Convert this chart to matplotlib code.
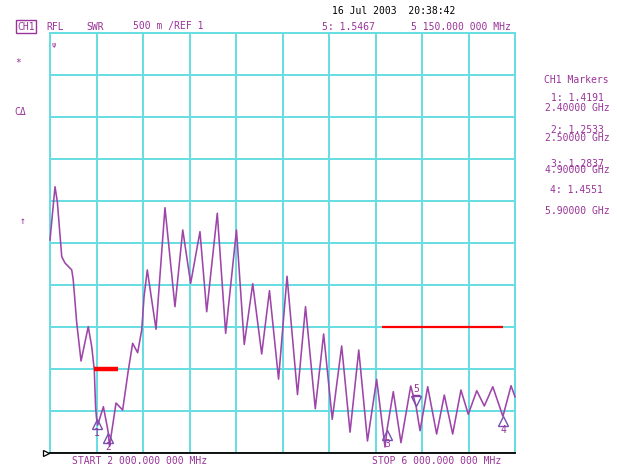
import matplotlib
matplotlib.use('Agg')
import matplotlib.pyplot as plt
from matplotlib.transforms import offset_copy

# ---- data ----
freq_ghz = [2.000, 2.043, 2.063, 2.101, 2.129, 2.187, 2.200, 2.230, 2.267, 2.329,
            2.359, 2.381, 2.392, 2.400, 2.410, 2.459, 2.490, 2.500, 2.512, 2.568,
            2.625, 2.674, 2.711, 2.754, 2.789, 2.809, 2.837, 2.912, 2.989, 3.075,
            3.142, 3.210, 3.290, 3.348, 3.439, 3.511, 3.604, 3.671, 3.744, 3.821,
            3.888, 3.966, 4.039, 4.129, 4.198, 4.282, 4.354, 4.428, 4.509, 4.581,
            4.656, 4.731, 4.810, 4.882, 4.900, 4.953, 5.019, 5.103, 5.150, 5.183,
            5.249, 5.326, 5.392, 5.464, 5.535, 5.598, 5.671, 5.736, 5.809, 5.895,
            5.900, 5.966, 6.000]
swr = [3.536, 4.170, 3.992, 3.337, 3.262, 3.179, 3.060, 2.548, 2.095, 2.504,
       2.265, 1.988, 1.550, 1.419, 1.330, 1.551, 1.330, 1.253, 1.080, 1.595,
       1.512, 1.988, 2.306, 2.194, 2.464, 2.861, 3.179, 2.473, 3.920, 2.742,
       3.655, 3.020, 3.635, 2.682, 3.854, 2.425, 3.655, 2.292, 3.015, 2.179,
       2.932, 1.879, 3.104, 1.696, 2.742, 1.527, 2.417, 1.401, 2.274, 1.248,
       2.226, 1.143, 1.877, 1.071, 1.284, 1.730, 1.123, 1.798, 1.547, 1.265,
       1.789, 1.226, 1.690, 1.226, 1.750, 1.461, 1.742, 1.560, 1.789, 1.440,
       1.455, 1.801, 1.670]

marker_ids = ['1', '2', '3', '4']
marker_freq = [2.40, 2.50, 4.90, 5.90]
marker_swr = [1.4191, 1.2533, 1.2837, 1.4551]
active_id = '5'
active_freq = 5.15
active_swr = 1.5467

limit1_freq = [2.38, 2.585]
limit1_swr = [2.0, 2.0]
limit2_freq = [4.86, 5.90]
limit2_swr = [2.5, 2.5]

x_ticks = [2.0 + 0.4 * i for i in range(11)]
y_ticks = [1.0 + 0.5 * i for i in range(11)]

table_title = 'CH1 Markers'
table_values = ['1: 1.4191', '2: 1.2533', '3: 1.2837', '4: 1.4551']
table_freqs = ['2.40000 GHz', '2.50000 GHz', '4.90000 GHz', '5.90000 GHz']

# ---- styling ----
W, H = 617, 468
PURPLE = '#993399'
TRACE = '#9e45aa'
CYAN = '#66dde3'
FONT = 'DejaVu Sans Mono'
FS = 7

fig = plt.figure(figsize=(W / 100, H / 100), dpi=100)
fig.patch.set_facecolor('white')
ax = fig.add_axes([50 / W, 15 / H, 465 / W, 420 / H])
ax.set_xlim(2.0, 6.0)
ax.set_ylim(1.0, 6.0)
ax.set_xticks(x_ticks)
ax.set_yticks(y_ticks)
ax.tick_params(length=0, labelbottom=False, labelleft=False)
ax.grid(True, color=CYAN, lw=1.4, zorder=0)
ax.set_axisbelow(True)
for s in ['left', 'right', 'top']:
    ax.spines[s].set_color(CYAN)
    ax.spines[s].set_linewidth(1.4)
ax.spines['bottom'].set_color('black')
ax.spines['bottom'].set_linewidth(1.3)

# trace
ax.plot(freq_ghz, swr, color=TRACE, lw=1.15, zorder=3, clip_on=False,
        solid_joinstyle='round')

# limit lines
ax.plot(limit1_freq, limit1_swr, color='red', lw=3.2, solid_capstyle='butt', zorder=4)
ax.plot(limit2_freq, limit2_swr, color='red', lw=1.6, solid_capstyle='butt', zorder=4)

# markers 1-4 (triangle below, number below)
tri_below = offset_copy(ax.transData, fig=fig, x=0, y=-6, units='dots')
num_below = offset_copy(ax.transData, fig=fig, x=0, y=-15, units='dots')
for mid, mf, ms in zip(marker_ids, marker_freq, marker_swr):
    ax.plot([mf], [ms], marker='^', ms=6.5, mfc='none', mec='#7a4fb0', mew=1.0,
            transform=tri_below, zorder=5, clip_on=False)
    ax.text(mf, ms, mid, transform=num_below, ha='center', va='center',
            color=PURPLE, fontsize=FS, family=FONT, zorder=5, clip_on=False)

# active marker 5 (triangle above, bar, number)
tri_above = offset_copy(ax.transData, fig=fig, x=0, y=6, units='dots')
bar_above = offset_copy(ax.transData, fig=fig, x=0, y=12, units='dots')
num_above = offset_copy(ax.transData, fig=fig, x=0, y=18, units='dots')
ax.plot([active_freq], [active_swr], marker='v', ms=6.5, mfc='none', mec='#7a4fb0',
        mew=1.0, transform=tri_above, zorder=5)
ax.plot([active_freq], [active_swr], marker='_', ms=6, mec=PURPLE, mew=1.0,
        transform=bar_above, zorder=5)
ax.text(active_freq, active_swr, active_id, transform=num_above, ha='center',
        va='center', color=PURPLE, fontsize=FS, family=FONT, zorder=5)

# reference position marker
ref_tr = offset_copy(ax.transData, fig=fig, x=-4, y=0, units='dots')
ax.plot([2.0], [1.0], marker='>', ms=5, mfc='white', mec='black', mew=0.9,
        transform=ref_tr, clip_on=False, zorder=6)


def ftext(x, y, s, ha='left', color=PURPLE, size=FS, **kw):
    fig.text(x / W, 1 - y / H, s, ha=ha, va='center', color=color,
             fontsize=size, family=FONT, **kw)


# header
ftext(17, 26.5, 'CH1', bbox=dict(boxstyle='square,pad=0.12', fc='white',
                                 ec=PURPLE, lw=1.0))
ftext(46, 26.5, 'RFL')
ftext(86, 26.5, 'SWR')
ftext(133, 26.5, '500 m /REF 1')
ftext(332, 11.5, '16 Jul 2003  20:38:42', color='black')
ftext(375, 26.5, '5: 1.5467', ha='right')
ftext(511, 26.5, '5 150.000 000 MHz', ha='right')

# left-side softkey symbols
ftext(15, 63, '*')
ftext(14, 112, 'C\u0394')
ftext(20, 221, '\u2191')
ftext(52, 45, '\u03c8', size=5)

# right-side marker table (value + frequency as one two-line block)
ftext(609, 80, table_title, ha='right')
block_y = [103, 134, 167]
block_ls = [0.88, 0.75, 0.55]
for i in range(3):
    ftext(610, block_y[i], table_values[i] + ' \n' + table_freqs[i], ha='right',
          multialignment='right', linespacing=block_ls[i])
ftext(603, 190, table_values[3], ha='right')
ftext(610, 211, table_freqs[3], ha='right')

# bottom annotations
ftext(72, 461, 'START 2 000.000 000 MHz')
ftext(372, 461, 'STOP 6 000.000 000 MHz')

fig.savefig('out.png', dpi=100, facecolor='white')
